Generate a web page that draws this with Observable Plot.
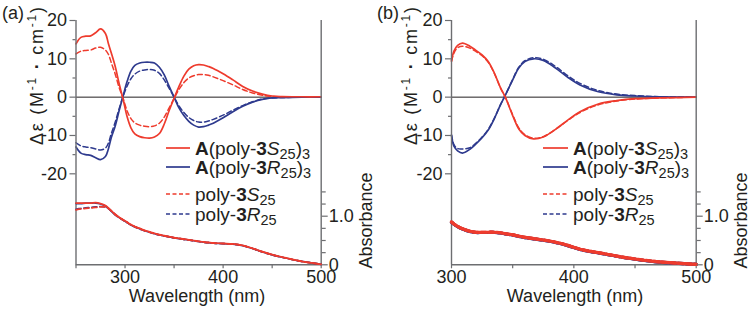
<!DOCTYPE html>
<html>
<head>
<meta charset="utf-8">
<script src="https://cdn.jsdelivr.net/npm/d3@7"></script>
<script src="https://cdn.jsdelivr.net/npm/@observablehq/plot@0.6"></script>
<style>
  html, body { margin: 0; padding: 0; background: #fff; }
  #wrap { position: relative; width: 750px; height: 315px; font-family: "Liberation Sans", Arial, sans-serif; }
  .panel { position: absolute; top: 0; width: 375px; height: 315px; }
  .panel svg { position: absolute; left: 0; top: 0; }
</style>
</head>
<body>
<div id="wrap">
  <div class="panel" id="pa" style="left:0"></div>
  <div class="panel" id="pb" style="left:375px"></div>
</div>
<script>
// ---------- Panel (a) data ----------
const wlA = [250,255,260,265,270,275,280,283,286,290,294,298,302,306,310,315,320,325,330,335,340,345,350,355,360,365,370,375,380,385,390,400,410,420,430,440,450,460,480,500];
const cdA_complexS = [13.9,15.6,15.9,16.0,16.8,17.8,16.6,14.0,11.5,8.0,3.5,-0.5,-5.0,-8.0,-9.6,-10.3,-10.6,-10.7,-10.4,-9.5,-7.0,-3.5,-0.3,2.8,5.5,7.3,8.2,8.5,8.4,8.0,7.5,6.1,4.5,2.8,1.6,0.8,0.3,0.15,0.1,0.1];
const cdA_complexR = [-13.0,-14.6,-15.0,-15.2,-15.8,-16.3,-15.5,-13.5,-10.5,-7.5,-3.5,0.3,4.0,6.8,8.3,8.9,9.1,9.1,8.9,7.8,5.8,2.8,0.0,-2.8,-4.8,-6.3,-7.3,-7.8,-7.7,-7.3,-6.8,-5.4,-3.8,-2.4,-1.3,-0.6,-0.2,-0.1,0,0];
const cdA_polyS = [11.3,12.0,12.2,12.3,12.8,13.0,12.3,11.2,9.0,6.0,2.5,-0.3,-3.5,-5.6,-6.7,-7.3,-7.6,-7.7,-7.5,-6.8,-5.2,-2.8,-0.3,2.0,3.8,5.0,5.6,5.9,5.9,5.7,5.3,4.3,3.2,2.0,1.1,0.5,0.2,0.1,0.05,0.05];
const cdA_polyR = [-11.9,-12.7,-13.0,-13.2,-13.5,-13.8,-13.3,-12.0,-9.5,-6.5,-3.0,0.2,2.8,4.8,6.0,6.8,7.1,7.2,7.0,6.2,4.5,2.3,0.0,-2.3,-4.0,-5.3,-6.1,-6.5,-6.5,-6.2,-5.8,-4.7,-3.4,-2.2,-1.2,-0.5,-0.2,-0.1,0,0];
const absA_complexS = [1.27,1.27,1.27,1.27,1.28,1.26,1.22,1.17,1.11,1.04,0.98,0.93,0.88,0.83,0.79,0.75,0.71,0.68,0.65,0.62,0.60,0.58,0.56,0.545,0.53,0.515,0.50,0.485,0.47,0.46,0.45,0.44,0.43,0.40,0.34,0.27,0.21,0.16,0.07,0.01];
const absA_complexR = [1.26,1.26,1.27,1.27,1.27,1.25,1.21,1.16,1.10,1.03,0.97,0.92,0.87,0.82,0.78,0.74,0.70,0.67,0.64,0.615,0.595,0.575,0.555,0.54,0.525,0.51,0.495,0.48,0.465,0.455,0.445,0.435,0.425,0.395,0.335,0.265,0.205,0.155,0.07,0.01];
const absA_polyS = [1.13,1.15,1.16,1.17,1.18,1.19,1.19,1.16,1.11,1.03,0.97,0.92,0.87,0.82,0.78,0.74,0.70,0.67,0.64,0.615,0.595,0.575,0.555,0.54,0.525,0.51,0.495,0.48,0.465,0.455,0.445,0.435,0.425,0.395,0.335,0.265,0.205,0.155,0.07,0.01];
const absA_polyR = [1.14,1.16,1.17,1.18,1.19,1.20,1.19,1.16,1.11,1.03,0.97,0.92,0.87,0.82,0.78,0.74,0.70,0.67,0.64,0.615,0.595,0.575,0.555,0.54,0.525,0.51,0.495,0.48,0.465,0.455,0.445,0.435,0.425,0.395,0.335,0.265,0.205,0.155,0.07,0.01];

// ---------- Panel (b) data ----------
const wlB = [300,302,305,309,315,320,325,330,335,340,344,350,355,360,367,375,385,395,405,420,435,450,470,500];
const cdB_complexS = [9.5,12.0,13.5,14.1,13.3,12.2,11.0,9.3,6.3,2.5,0,-4.8,-8.3,-10.0,-10.9,-10.4,-8.4,-6.0,-3.8,-1.8,-0.9,-0.4,-0.2,0];
const cdB_complexR = [-10.0,-12.8,-14.0,-14.6,-13.6,-12.2,-10.6,-8.6,-5.6,-2.0,0.5,4.5,7.6,9.3,10.0,9.6,7.6,5.2,3.2,1.4,0.6,0.3,0.1,0];
const cdB_polyS = [9.3,11.5,12.9,13.3,12.8,11.9,10.8,9.1,6.2,2.4,0,-4.6,-8.0,-9.8,-10.7,-10.3,-8.4,-6.1,-4.0,-2.0,-1.0,-0.5,-0.2,0];
const cdB_polyR = [-9.8,-12.4,-13.4,-13.5,-13.2,-12.0,-10.4,-8.4,-5.5,-2.0,0.5,4.6,7.8,9.5,10.3,9.9,8.0,5.6,3.6,1.7,0.8,0.4,0.1,0];
const absB_complexS = [0.88,0.84,0.79,0.74,0.69,0.67,0.67,0.67,0.67,0.66,0.64,0.615,0.59,0.565,0.54,0.51,0.465,0.40,0.32,0.25,0.18,0.12,0.06,0.01];
const absB_complexR = [0.875,0.835,0.785,0.735,0.685,0.665,0.665,0.665,0.665,0.655,0.635,0.61,0.585,0.56,0.535,0.505,0.46,0.395,0.315,0.245,0.175,0.115,0.055,0.01];
const absB_polyS = [0.88,0.84,0.79,0.74,0.69,0.67,0.67,0.67,0.67,0.66,0.64,0.615,0.59,0.565,0.54,0.51,0.465,0.40,0.32,0.25,0.18,0.12,0.06,0.01];
const absB_polyR = [0.875,0.835,0.785,0.735,0.685,0.665,0.665,0.665,0.665,0.655,0.635,0.61,0.585,0.56,0.535,0.505,0.46,0.395,0.315,0.245,0.175,0.115,0.055,0.01];

// ---------- Axis ticks ----------
const cdTicks = [-20, -10, 0, 10, 20];
const cdMinorTicks = [-15, -5, 5, 15];
const absTicks = [0, 1];
const absTickLabels = ["0", "1.0"];
const absMinorTicks = [0.25, 0.5, 0.75, 1.25, 1.5];
const xTicksA = [250, 300, 350, 400, 450, 500];
const xTicksB = [300, 350, 400, 450, 500];

const RED = "#ee3b2d", BLUE = "#2e3a8e", AXIS = "#6d6e71", INK = "#231f20";
const FONT = "'Liberation Sans', Arial, sans-serif";

function rows(wl, vals) { return wl.map((w, i) => ({wl: w, v: vals[i]})); }

const W = 375, H = 315, MT = 20, MB = 50.7, MR = 54.3;
const CD_DOMAIN = [-43.74, 20];
const ABS_DOMAIN = [0, 5.027];

function buildPanel(el, cfg) {
  const common = {
    width: W, height: H, marginTop: MT, marginBottom: MB, marginLeft: cfg.ml, marginRight: MR,
    style: {fontFamily: FONT, fontSize: "18px", color: INK, background: "transparent", overflow: "visible"}
  };
  const dash = "5,3";
  const cd = Plot.plot({
    ...common,
    x: {domain: cfg.xdomain},
    y: {domain: CD_DOMAIN},
    marks: [
      Plot.ruleY([0], {stroke: INK, strokeWidth: 1}),
      Plot.line(rows(cfg.wl, cfg.cdPolyR), {x: "wl", y: "v", stroke: BLUE, strokeWidth: 1.5, strokeDasharray: dash, curve: "catmull-rom"}),
      Plot.line(rows(cfg.wl, cfg.cdPolyS), {x: "wl", y: "v", stroke: RED, strokeWidth: 1.5, strokeDasharray: dash, curve: "catmull-rom"}),
      Plot.line(rows(cfg.wl, cfg.cdComplexR), {x: "wl", y: "v", stroke: BLUE, strokeWidth: 1.7, curve: "catmull-rom"}),
      Plot.line(rows(cfg.wl, cfg.cdComplexS), {x: "wl", y: "v", stroke: RED, strokeWidth: 1.7, curve: "catmull-rom"}),
      Plot.ruleX([cfg.xdomain[0]], {stroke: AXIS, strokeWidth: 1.4}),
      Plot.ruleX([cfg.xdomain[1]], {stroke: AXIS, strokeWidth: 1.4}),
      Plot.ruleY([CD_DOMAIN[0]], {stroke: AXIS, strokeWidth: 1.4}),
      Plot.axisY({ticks: cdTicks, tickSize: 6, tickPadding: 3, tickFormat: d => String(d), label: null, stroke: AXIS, strokeWidth: 1.2}),
      Plot.axisY({ticks: cdMinorTicks, tickSize: 3, tickPadding: 3, tickFormat: () => "", label: null, stroke: AXIS, strokeWidth: 1.2}),
      Plot.axisX({ticks: cfg.xticks, tickSize: 4, tickPadding: 1.5, tickFormat: d => (d % 100 === 0 ? String(d) : ""), label: null, stroke: AXIS, strokeWidth: 1.2})
    ]
  });
  const ab = Plot.plot({
    ...common,
    x: {domain: cfg.xdomain, axis: null},
    y: {domain: ABS_DOMAIN},
    marks: [
      Plot.line(rows(cfg.wl, cfg.absPolyR), {x: "wl", y: "v", stroke: BLUE, strokeWidth: cfg.absW, strokeDasharray: dash, curve: "catmull-rom"}),
      Plot.line(rows(cfg.wl, cfg.absComplexR), {x: "wl", y: "v", stroke: BLUE, strokeWidth: cfg.absW, curve: "catmull-rom"}),
      Plot.line(rows(cfg.wl, cfg.absPolyS), {x: "wl", y: "v", stroke: RED, strokeWidth: cfg.absW, strokeDasharray: dash, curve: "catmull-rom"}),
      Plot.line(rows(cfg.wl, cfg.absComplexS), {x: "wl", y: "v", stroke: RED, strokeWidth: cfg.absW, curve: "catmull-rom"}),
      Plot.axisY({anchor: "right", ticks: absTicks, tickSize: 6, tickPadding: 1.5, tickFormat: d => absTickLabels[absTicks.indexOf(d)], label: null, stroke: AXIS, strokeWidth: 1.2}),
      Plot.axisY({anchor: "right", ticks: absMinorTicks, tickSize: 4, tickPadding: 1.5, tickFormat: () => "", label: null, stroke: AXIS, strokeWidth: 1.2})
    ]
  });
  el.appendChild(cd);
  el.appendChild(ab);

  const svg = d3.select(cd);
  const t = (x, y, size) => svg.append("text").attr("x", x).attr("y", y)
      .attr("text-anchor", "start")
      .attr("font-family", FONT).attr("font-size", size || 18).attr("fill", INK);

  // panel label
  t(cfg.labelX, 18.5).text(cfg.label);

  // x-axis label
  t(cfg.xlabX, 301.5).attr("text-anchor", "middle").text("Wavelength (nm)");

  // left y label: Δε (M-1·cm-1)
  const yl = svg.append("text")
    .attr("transform", "translate(" + cfg.ylabX + ",76) rotate(-90)")
    .attr("text-anchor", "middle")
    .attr("textLength", 138).attr("lengthAdjust", "spacing")
    .attr("font-family", FONT).attr("font-size", 18).attr("fill", INK);
  yl.append("tspan").text("Δε (M");
  yl.append("tspan").attr("font-size", 12).attr("dy", -7).text("-1");
  yl.append("tspan").attr("dy", 7).attr("font-weight", "bold").text(" · ");
  yl.append("tspan").text("cm");
  yl.append("tspan").attr("font-size", 12).attr("dy", -7).text("-1");
  yl.append("tspan").attr("dy", 7).text(")");

  // right y label
  svg.append("text")
    .attr("transform", "translate(366,220.5) rotate(-90)")
    .attr("text-anchor", "middle").attr("dy", "0.35em")
    .attr("font-family", FONT).attr("font-size", 18).attr("fill", INK)
    .text("Absorbance");

  // legend
  const legend = [
    {color: RED, dashed: false, prefix: "A", mid: "(poly-", n: "3", s: "S", sub: "25", tail: ")", tailSub: "3"},
    {color: BLUE, dashed: false, prefix: "A", mid: "(poly-", n: "3", s: "R", sub: "25", tail: ")", tailSub: "3"},
    {color: RED, dashed: true, prefix: "", mid: "poly-", n: "3", s: "S", sub: "25", tail: "", tailSub: ""},
    {color: BLUE, dashed: true, prefix: "", mid: "poly-", n: "3", s: "R", sub: "25", tail: "", tailSub: ""}
  ];
  const legY = [148, 167, 194, 214];
  legend.forEach((e, i) => {
    const y = legY[i];
    svg.append("line").attr("x1", cfg.legX0).attr("x2", cfg.legX1).attr("y1", y).attr("y2", y)
      .attr("stroke", e.color).attr("stroke-width", 1.7)
      .attr("stroke-dasharray", e.dashed ? "4,2.5" : null);
    const tx = t(cfg.legTX, y + 7, 19);
    if (e.prefix) tx.append("tspan").attr("font-weight", "bold").text(e.prefix);
    tx.append("tspan").text(e.mid);
    tx.append("tspan").attr("font-weight", "bold").text(e.n);
    tx.append("tspan").attr("font-style", "italic").text(e.s);
    tx.append("tspan").attr("font-size", 14.5).attr("dy", 4).text(e.sub);
    if (e.tail) {
      tx.append("tspan").attr("dy", -4).text(e.tail);
      tx.append("tspan").attr("font-size", 14.5).attr("dy", 4).text(e.tailSub);
    }
  });
}

buildPanel(document.getElementById("pa"), {
  ml: 75.5, xdomain: [250, 500], xticks: xTicksA, wl: wlA,
  cdComplexS: cdA_complexS, cdComplexR: cdA_complexR, cdPolyS: cdA_polyS, cdPolyR: cdA_polyR,
  absComplexS: absA_complexS, absComplexR: absA_complexR, absPolyS: absA_polyS, absPolyR: absA_polyR,
  absW: 1.7, label: "(a)", labelX: 2, xlabX: 197, ylabX: 43,
  legX0: 166, legX1: 190, legTX: 195
});
buildPanel(document.getElementById("pb"), {
  ml: 76, xdomain: [300, 500], xticks: xTicksB, wl: wlB,
  cdComplexS: cdB_complexS, cdComplexR: cdB_complexR, cdPolyS: cdB_polyS, cdPolyR: cdB_polyR,
  absComplexS: absB_complexS, absComplexR: absB_complexR, absPolyS: absB_polyS, absPolyR: absB_polyR,
  absW: 3.2, label: "(b)", labelX: 2, xlabX: 200, ylabX: 42,
  legX0: 168, legX1: 193, legTX: 198
});
</script>
</body>
</html>
